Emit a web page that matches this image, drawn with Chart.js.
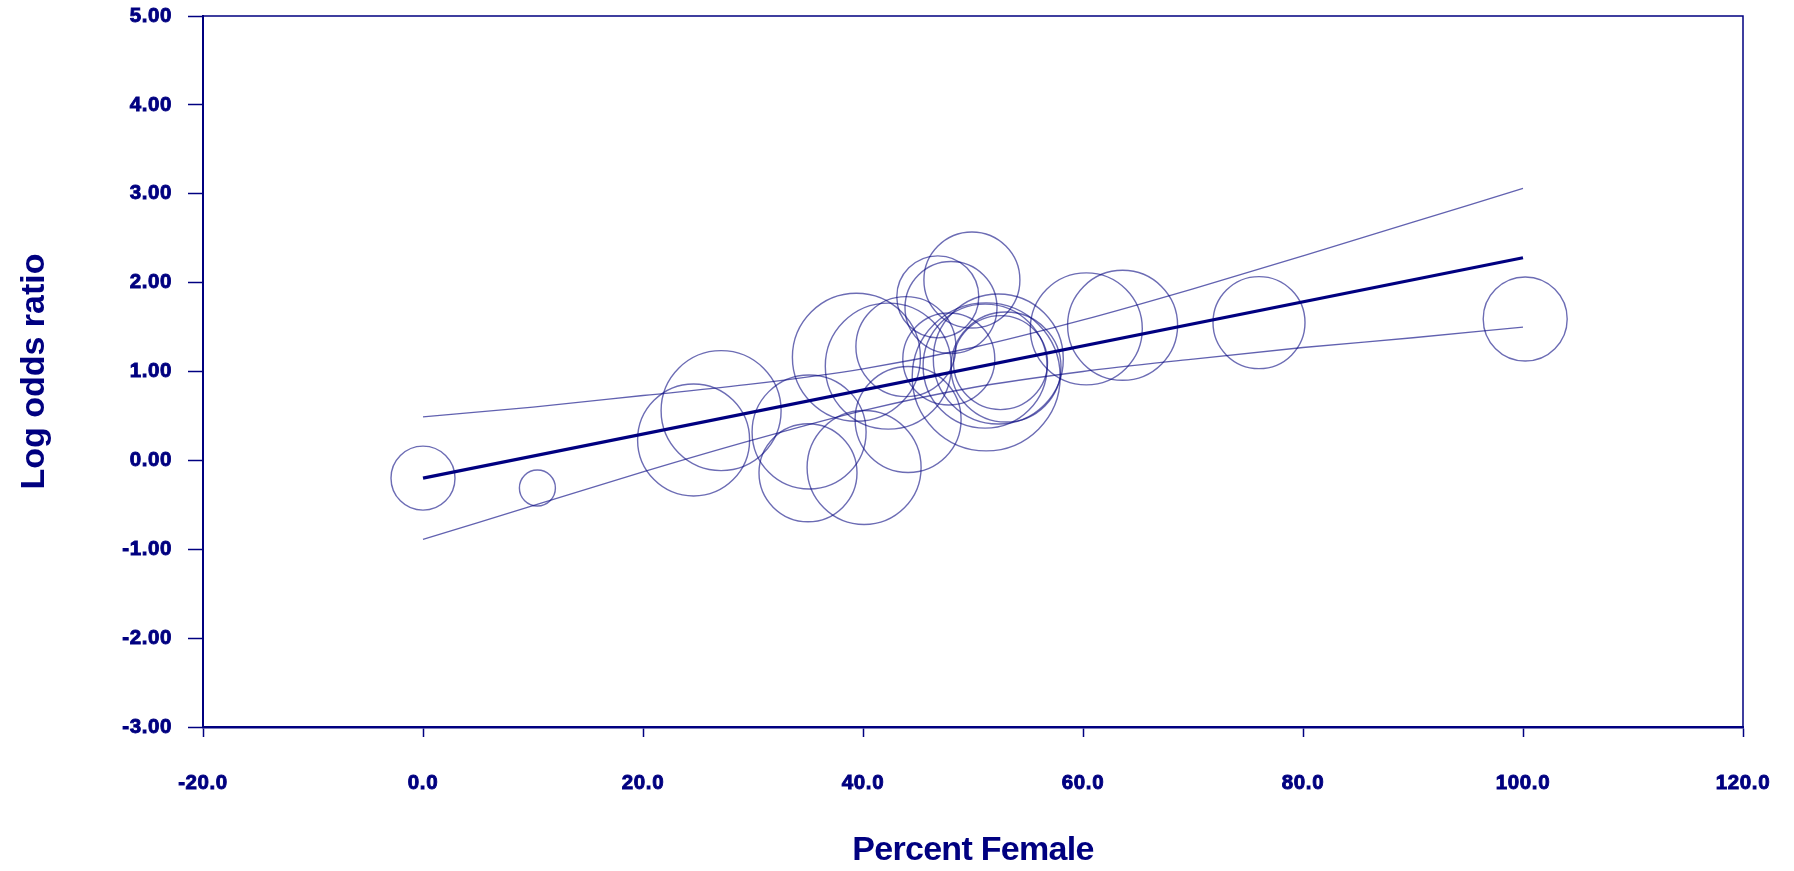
<!DOCTYPE html>
<html>
<head>
<meta charset="utf-8">
<script src="https://cdn.jsdelivr.net/npm/chart.js@4.4.1/dist/chart.umd.min.js"></script>
<style>
  html, body { margin: 0; padding: 0; background: #ffffff; }
  #wrap { width: 1794px; height: 871px; position: relative; }
</style>
</head>
<body>
<div id="wrap"><canvas id="c"></canvas></div>
<script>
// ---- data ----
const percentFemale = [0.0, 10.4, 24.6, 27.1, 35.1, 35.0, 40.1, 39.4, 42.3, 44.1, 43.9, 46.8, 48.0, 49.9, 47.8, 51.2, 51.1, 52.3, 53.0, 52.5, 60.3, 63.6, 76.0, 100.2];
const logOddsRatio  = [-0.20, -0.31, 0.23, 0.56, 0.32, -0.14, -0.08, 1.16, 1.06, 0.46, 1.28, 1.84, 1.72, 2.03, 1.14, 0.94, 1.06, 1.14, 1.05, 1.10, 1.48, 1.52, 1.55, 1.59];
const studyWeight   = [32, 18, 56, 60, 57, 49, 57, 64, 63, 53, 50, 41, 46, 48, 46, 74, 62, 65, 55, 47, 56, 55, 46, 42];

const fitX = [0, 100];
const fitY = [-0.20, 2.28];

const ciX     = [0, 10, 20, 30, 40, 50, 60, 70, 80, 90, 100];
const ciUpper = [0.49, 0.60, 0.73, 0.86, 1.03, 1.27, 1.58, 1.93, 2.30, 2.68, 3.06];
const ciLower = [-0.89, -0.51, -0.13, 0.23, 0.56, 0.82, 1.00, 1.14, 1.27, 1.38, 1.50];

const xTickValues = [-20, 0, 20, 40, 60, 80, 100, 120];
const yTickValues = [-3, -2, -1, 0, 1, 2, 3, 4, 5];

const xTitle = 'Percent Female';
const yTitle = 'Log odds ratio';

// ---- styling ----
const NAVY = '#000080';
const RADIUS_PER_WEIGHT = 1;

const bubbles = percentFemale.map((x, i) => ({ x: x, y: logOddsRatio[i], r: studyWeight[i] * RADIUS_PER_WEIGHT }));
const fitLine = fitX.map((x, i) => ({ x: x, y: fitY[i] }));
const upper = ciX.map((x, i) => ({ x: x, y: ciUpper[i] }));
const lower = ciX.map((x, i) => ({ x: x, y: ciLower[i] }));

const framePlugin = {
  id: 'frame',
  beforeDraw(chart) {
    // letter spacing for tick labels and titles
    Object.values(chart.scales).forEach(s => {
      if (s._wrapped) return;
      s._wrapped = true;
      const ctx = chart.ctx;
      const dl = s.drawLabels, dt = s.drawTitle;
      s.drawLabels = function (a) { ctx.save(); ctx.letterSpacing = '0.6px'; dl.call(this, a); ctx.restore(); };
      s.drawTitle = function (a) { ctx.save(); ctx.letterSpacing = (s.axis === 'x') ? '-0.7px' : '0px'; dt.call(this, a); ctx.restore(); };
    });
  },
  afterDatasetsDraw(chart) {
    const a = chart.chartArea, ctx = chart.ctx;
    ctx.save();
    ctx.strokeStyle = NAVY;
    ctx.lineWidth = 1.5;
    ctx.beginPath();
    ctx.moveTo(a.left, a.top);
    ctx.lineTo(a.right, a.top);
    ctx.lineTo(a.right, a.bottom);
    ctx.stroke();
    ctx.restore();
  }
};

const tickFont = { family: '"Liberation Sans", Arial, sans-serif', size: 20.5, weight: 'bold' };
const titleFont = { family: '"Liberation Sans", Arial, sans-serif', size: 34, weight: 'bold' };

function noPad(s) { s.paddingTop = 0; s.paddingBottom = 0; s.paddingLeft = 0; s.paddingRight = 0; }

new Chart(document.getElementById('c'), {
  data: {
    datasets: [
      {
        type: 'line', data: upper, borderColor: 'rgba(0,0,128,0.62)', borderWidth: 1.3,
        pointRadius: 0, fill: false, cubicInterpolationMode: 'monotone', order: 3
      },
      {
        type: 'line', data: lower, borderColor: 'rgba(0,0,128,0.62)', borderWidth: 1.3,
        pointRadius: 0, fill: false, cubicInterpolationMode: 'monotone', order: 3
      },
      {
        type: 'bubble', data: bubbles, borderColor: 'rgba(10,10,130,0.6)', borderWidth: 1.4,
        backgroundColor: 'rgba(0,0,0,0)', hoverRadius: 0, order: 2
      },
      {
        type: 'line', data: fitLine, borderColor: NAVY, borderWidth: 3.2,
        pointRadius: 0, fill: false, order: 1
      }
    ]
  },
  options: {
    responsive: true,
    maintainAspectRatio: false,
    animation: false,
    events: [],
    layout: { autoPadding: false, padding: { left: 0, right: 51, top: 16, bottom: 0 } },
    plugins: { legend: { display: false }, tooltip: { enabled: false } },
    scales: {
      x: {
        type: 'linear', position: 'bottom', min: -20, max: 120,
        afterBuildTicks: s => { s.ticks = xTickValues.map(v => ({ value: v })); },
        afterFit: s => { s.height = 144; noPad(s); },
        grid: { drawOnChartArea: false, drawTicks: true, tickLength: 10, tickColor: NAVY, tickWidth: 1.5 },
        border: { display: true, color: NAVY, width: 2.5 },
        ticks: { color: NAVY, font: tickFont, padding: 34, maxRotation: 0, autoSkip: false,
                 textStrokeColor: NAVY, textStrokeWidth: 0.9,
                 callback: v => Number(v).toFixed(1) },
        title: { display: true, text: xTitle, color: NAVY, font: titleFont, padding: { top: 0, bottom: 0 } }
      },
      y: {
        type: 'linear', position: 'left', min: -3, max: 5,
        afterBuildTicks: s => { s.ticks = yTickValues.map(v => ({ value: v })); },
        afterFit: s => { s.width = 203; noPad(s); },
        grid: { drawOnChartArea: false, drawTicks: true, tickLength: 15, tickColor: NAVY, tickWidth: 1.5 },
        border: { display: true, color: NAVY, width: 2 },
        ticks: { color: NAVY, font: tickFont, padding: 16, autoSkip: false,
                 textStrokeColor: NAVY, textStrokeWidth: 0.9,
                 callback: v => Number(v).toFixed(2) },
        title: { display: true, text: yTitle, color: NAVY, font: titleFont, padding: { top: 14, bottom: 0 } }
      }
    }
  },
  plugins: [framePlugin]
});
</script>
</body>
</html>
